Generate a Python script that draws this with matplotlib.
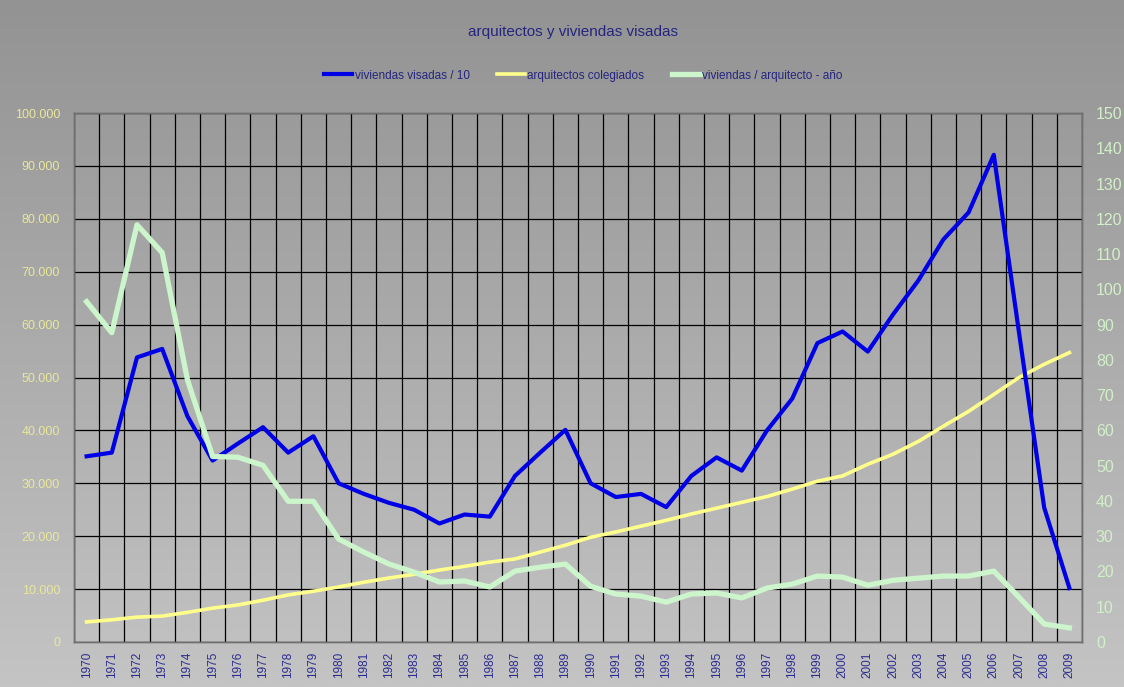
import matplotlib
matplotlib.use("Agg")
import matplotlib.pyplot as plt
import numpy as np
from matplotlib.ticker import FuncFormatter, MultipleLocator, FixedLocator

plt.rcParams['font.family'] = ['Liberation Sans', 'DejaVu Sans']

# ---------------- data ----------------
years = [str(y) for y in range(1970, 2010)]

viviendas_10 = [35100, 35800, 53800, 55400, 42700, 34300, 37500, 40600, 35800, 38900,
                30000, 28000, 26300, 25000, 22400, 24100, 23700, 31400, 35800, 40100,
                30000, 27400, 28000, 25500, 31400, 34900, 32400, 40000, 46000, 56500,
                58700, 54900, 61900, 68300, 76100, 81200, 92100, 58500, 25400, 10200]

arquitectos = [3800, 4200, 4700, 4900, 5600, 6400, 7000, 7900, 8900, 9600,
               10400, 11300, 12100, 12800, 13600, 14300, 15100, 15700, 17000, 18300,
               19800, 20800, 21900, 23000, 24200, 25300, 26400, 27500, 28900, 30400,
               31400, 33600, 35500, 37900, 40800, 43600, 46800, 50000, 52500, 54700]

viv_por_arq = [96.5, 87.7, 118.3, 110.4, 74.4, 52.6, 52.4, 50.1, 39.9, 39.9,
               29.2, 25.5, 22.1, 19.8, 17.0, 17.3, 15.6, 20.1, 21.2, 22.1,
               15.8, 13.6, 13.0, 11.3, 13.6, 13.9, 12.5, 15.3, 16.4, 18.7,
               18.4, 16.1, 17.5, 18.1, 18.7, 18.7, 20.1, 12.7, 5.1, 4.0]

W, H = 1124, 687
fig = plt.figure(figsize=(W / 100, H / 100), dpi=100)

# gray gradient background (dark top -> light bottom)
bg = fig.add_axes([0, 0, 1, 1], zorder=-10)
grad = np.linspace(0, 1, 256).reshape(-1, 1)
bg.imshow(grad, aspect="auto", cmap=matplotlib.colors.LinearSegmentedColormap.from_list(
    "g", ["#939393", "#c4c4c4"]), extent=[0, 1, 0, 1], origin="upper")
bg.axis("off")

left, right, top, bottom = 74, 1082, 113, 642
ax = fig.add_axes([left / W, 1 - bottom / H, (right - left) / W, (bottom - top) / H])
ax.patch.set_alpha(0)
ax2 = ax.twinx()

x = np.arange(len(years))

ax.plot(x, arquitectos, color="#ffff8c", lw=2.6, zorder=3, label="arquitectos colegiados")
ax.plot(x, viviendas_10, color="#0000e6", lw=3.0, zorder=4, label="viviendas visadas / 10")
ax2.plot(x, viv_por_arq, color="#ccf5cc", lw=3.8, zorder=5,
         label="viviendas / arquitecto - año")

ax.set_xlim(-0.5, len(years) - 0.5)
ax.set_ylim(0, 100000)
ax2.set_ylim(0, 150)

ax.yaxis.set_major_locator(MultipleLocator(10000))
ax.yaxis.set_major_formatter(FuncFormatter(lambda v, p: f"{v:,.0f}".replace(",", ".")))
ax2.yaxis.set_major_locator(MultipleLocator(10))

ax.set_xticks(x)
ax.set_xticklabels(years, rotation=90, color="#2b2b8f", fontsize=8.5)
ax.xaxis.set_minor_locator(FixedLocator(np.arange(-0.5, len(years), 1.0)))

ax.grid(axis="y", which="major", color="black", lw=0.9)
ax.grid(axis="x", which="minor", color="black", lw=0.9)
ax.set_axisbelow(True)

ax.tick_params(axis="x", which="both", length=0, pad=7)
ax.tick_params(axis="y", length=0, pad=10, labelcolor="#e8e89a", labelsize=9)
ax2.tick_params(axis="y", length=0, pad=10, labelcolor="#d2f0c8", labelsize=11.5)

for a in (ax, ax2):
    for s in a.spines.values():
        s.set_color("#707070")
        s.set_linewidth(1.0)

fig.text(0.51, 0.953, "arquitectos y viviendas visadas", ha="center", va="center",
         color="#25257f", fontsize=11)

h1, l1 = ax.get_legend_handles_labels()
h2, l2 = ax2.get_legend_handles_labels()
order = [1, 0]
handles = [h1[i] for i in order] + h2
labels = [l1[i] for i in order] + l2
leg = fig.legend(handles, labels, loc="center", bbox_to_anchor=(0.519, 0.890), ncol=3,
                 frameon=False, fontsize=8.5, handlelength=2.4, handletextpad=0.2,
                 columnspacing=2.3, labelcolor="#25257f")

fig.savefig("out.png", dpi=100)
